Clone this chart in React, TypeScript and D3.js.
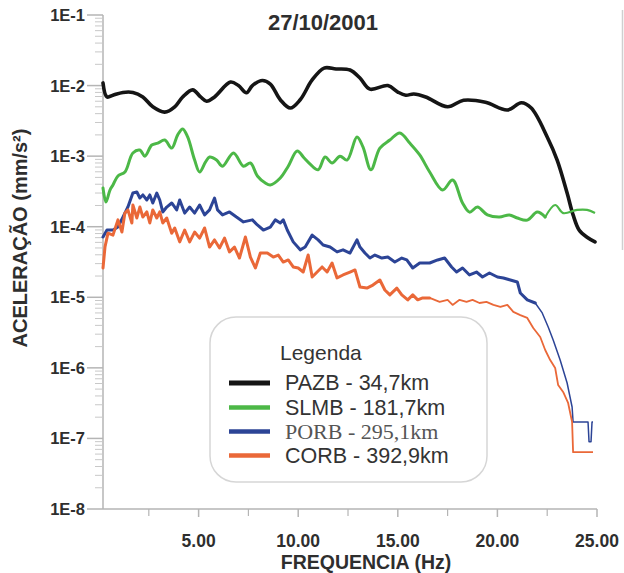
import React from 'react';
import * as d3 from 'd3';

// ---------- data (frequency in Hz, acceleration in mm/s²) ----------
const pazbFreq = [0.2, 0.4, 0.7, 1.2, 1.7, 2.2, 2.7, 3.3, 3.8, 4.2, 4.7, 5.1, 5.4, 5.8, 6.6, 7.0, 7.4, 7.7, 8.2, 8.6, 9.1, 9.6, 10.1, 10.7, 11.3, 11.9, 12.6, 13.1, 13.6, 14.5, 15.0, 15.4, 15.8, 16.4, 17.5, 18.3, 19.4, 20.5, 21.2, 21.7, 22.5, 23.0, 23.5, 23.8, 24.1, 24.5, 24.9];
const pazbAmp = [1.09e-2, 6.9e-3, 7.3e-3, 8.0e-3, 8.0e-3, 6.9e-3, 5.0e-3, 4.2e-3, 5.0e-3, 6.9e-3, 8.7e-3, 6.9e-3, 6.0e-3, 6.9e-3, 1.12e-2, 1.0e-2, 7.9e-3, 1.0e-2, 1.18e-2, 1.05e-2, 6.3e-3, 4.8e-3, 6.3e-3, 1.2e-2, 1.77e-2, 1.72e-2, 1.66e-2, 1.28e-2, 8.9e-3, 1.0e-2, 8.1e-3, 7.3e-3, 7.6e-3, 6.9e-3, 5.0e-3, 6.2e-3, 5.8e-3, 4.5e-3, 5.7e-3, 4.8e-3, 1.87e-3, 8.8e-4, 3.0e-4, 1.47e-4, 9.0e-5, 7.1e-5, 6.1e-5];

const slmbFreq = [0.2, 0.35, 0.55, 0.7, 0.95, 1.3, 1.7, 2.05, 2.3, 2.65, 2.95, 3.3, 3.65, 3.95, 4.2, 4.45, 4.8, 5.05, 5.35, 5.55, 5.9, 6.2, 6.75, 7.25, 7.6, 7.95, 8.35, 8.6, 9.1, 9.5, 9.95, 10.3, 10.6, 11.0, 11.35, 11.7, 12.1, 12.45, 12.95, 13.25, 13.65, 14.1, 14.6, 15.1, 15.6, 16.1, 16.6, 17.25, 17.75, 18.25, 18.6, 19.0, 19.5, 20.1, 20.6, 21.0, 21.5, 22.0, 22.4, 22.9, 23.3, 24.0, 24.5, 24.9];
const slmbAmp = [3.54e-4, 2.24e-4, 3.31e-4, 3.9e-4, 5.24e-4, 5.96e-4, 1.11e-3, 1.22e-3, 1.0e-3, 1.44e-3, 1.53e-3, 1.69e-3, 1.3e-3, 2.0e-3, 2.43e-3, 1.87e-3, 8.8e-4, 5.96e-4, 8.3e-4, 9.7e-4, 8.8e-4, 7.2e-4, 1.11e-3, 7.2e-4, 8.0e-4, 5.24e-4, 4.16e-4, 3.9e-4, 4.9e-4, 7.2e-4, 1.18e-3, 9.4e-4, 7.7e-4, 6.4e-4, 9.7e-4, 8.0e-4, 1.0e-3, 8.8e-4, 1.87e-3, 1.35e-3, 6.4e-4, 1.3e-3, 1.69e-3, 2.13e-3, 1.53e-3, 1.04e-3, 5.96e-4, 3.31e-4, 4.59e-4, 2.17e-4, 1.61e-4, 1.9e-4, 1.47e-4, 1.37e-4, 1.47e-4, 1.33e-4, 1.24e-4, 1.61e-4, 1.37e-4, 2.03e-4, 1.56e-4, 1.73e-4, 1.73e-4, 1.56e-4];

const porbFreq = [0.2, 0.4, 0.7, 0.95, 1.2, 1.45, 1.7, 1.9, 2.05, 2.2, 2.4, 2.55, 2.7, 2.9, 3.05, 3.2, 3.4, 3.65, 3.9, 4.05, 4.3, 4.55, 4.8, 5.05, 5.3, 5.55, 5.8, 5.95, 6.2, 6.55, 6.9, 7.25, 7.7, 7.95, 8.25, 8.6, 8.85, 9.1, 9.25, 9.45, 9.75, 10.1, 10.35, 10.7, 11.0, 11.25, 11.6, 11.95, 12.25, 12.6, 12.95, 13.1, 13.35, 13.6, 13.85, 14.2, 14.5, 14.85, 15.2, 15.45, 15.75, 16.1, 16.6, 17.0, 17.35, 17.7, 17.95, 18.25, 18.6, 18.95, 19.25, 19.6, 20.0, 20.3, 20.65, 21.0, 21.15, 21.5, 21.9, 22.25, 22.55, 22.8, 23.15, 23.5, 23.75, 23.8, 24.55, 24.6, 24.7, 24.75, 24.8];
const porbAmp = [7.15e-5, 8.98e-5, 8.98e-5, 9.9e-5, 1.37e-4, 1.9e-4, 3.0e-4, 3.1e-4, 2.55e-4, 2.82e-4, 2.39e-4, 2.82e-4, 2.17e-4, 3.0e-4, 2.39e-4, 1.62e-4, 1.9e-4, 2.17e-4, 1.73e-4, 2.39e-4, 1.56e-4, 1.9e-4, 1.56e-4, 2.03e-4, 1.47e-4, 1.73e-4, 2.55e-4, 1.73e-4, 1.47e-4, 1.62e-4, 1.37e-4, 1.17e-4, 1.25e-4, 1.06e-4, 8.98e-5, 9.9e-5, 1.25e-4, 1.13e-4, 1.25e-4, 8.98e-5, 6.1e-5, 4.7e-5, 5.15e-5, 7.6e-5, 6.5e-5, 5.5e-5, 5.15e-5, 4.4e-5, 4.7e-5, 4.24e-5, 6.5e-5, 5.15e-5, 4.24e-5, 3.6e-5, 3.97e-5, 3.6e-5, 3.72e-5, 3.16e-5, 3.6e-5, 3.38e-5, 2.6e-5, 3.06e-5, 3.06e-5, 3.38e-5, 3.6e-5, 2.69e-5, 2.28e-5, 2.6e-5, 2.07e-5, 2.28e-5, 1.94e-5, 2.21e-5, 1.94e-5, 1.88e-5, 1.76e-5, 1.65e-5, 1.15e-5, 9.2e-6, 8.3e-6, 6.0e-6, 3.8e-6, 2.48e-6, 1.29e-6, 6.1e-7, 2.79e-7, 1.71e-7, 1.71e-7, 9.0e-8, 9.0e-8, 1.71e-7, 1.71e-7];

const corbFreq = [0.2, 0.3, 0.45, 0.7, 0.95, 1.15, 1.3, 1.45, 1.65, 1.7, 1.9, 2.05, 2.2, 2.4, 2.55, 2.7, 2.9, 3.05, 3.2, 3.4, 3.65, 3.8, 4.05, 4.3, 4.55, 4.8, 5.05, 5.3, 5.55, 5.8, 6.05, 6.3, 6.55, 6.8, 7.05, 7.35, 7.6, 7.85, 8.1, 8.45, 8.75, 9.0, 9.25, 9.5, 9.75, 10.0, 10.25, 10.5, 10.7, 10.95, 11.2, 11.45, 11.7, 11.95, 12.25, 12.6, 12.85, 13.1, 13.45, 13.75, 14.1, 14.35, 14.6, 14.95, 15.2, 15.5, 15.75, 16.0, 16.25, 16.6, 17.1, 17.5, 17.75, 18.1, 18.45, 18.75, 19.1, 19.45, 19.8, 20.15, 20.5, 20.8, 21.15, 21.5, 21.8, 22.15, 22.4, 22.65, 22.9, 23.05, 23.3, 23.55, 23.75, 23.8, 24.8];
const corbAmp = [2.6e-5, 5.15e-5, 8.1e-5, 7.6e-5, 1.25e-4, 8.4e-5, 1.56e-4, 1.73e-4, 1.13e-4, 2.03e-4, 1.33e-4, 1.9e-4, 1.37e-4, 1.62e-4, 1.13e-4, 1.73e-4, 1.33e-4, 1.62e-4, 1.13e-4, 1.33e-4, 8.1e-5, 9.6e-5, 6.1e-5, 8.98e-5, 6.1e-5, 8.4e-5, 6.9e-5, 9.6e-5, 5.15e-5, 6.5e-5, 5.0e-5, 6.9e-5, 4.4e-5, 5.15e-5, 3.6e-5, 7.15e-5, 3.72e-5, 2.6e-5, 4.24e-5, 4.24e-5, 3.72e-5, 3.97e-5, 3.16e-5, 3.38e-5, 2.69e-5, 2.6e-5, 2.28e-5, 3.97e-5, 1.94e-5, 2.28e-5, 2.69e-5, 2.28e-5, 3.06e-5, 1.88e-5, 2.07e-5, 2.28e-5, 2.44e-5, 1.4e-5, 1.35e-5, 1.49e-5, 1.76e-5, 1.27e-5, 1.08e-5, 1.35e-5, 1.08e-5, 9.2e-6, 1.08e-5, 9.2e-6, 9.8e-6, 9.8e-6, 8.6e-6, 9.2e-6, 7.8e-6, 9.2e-6, 8.6e-6, 9.2e-6, 8.3e-6, 8.6e-6, 7.8e-6, 7.3e-6, 7.8e-6, 6.2e-6, 5.6e-6, 5.1e-6, 3.67e-6, 2.74e-6, 1.79e-6, 1.29e-6, 9.95e-7, 5.7e-7, 4.55e-7, 3.18e-7, 1.71e-7, 6.4e-8, 6.4e-8];

const seriesNames = ['PAZB - 34,7km', 'SLMB - 181,7km', 'PORB - 295,1km', 'CORB - 392,9km'];
const yTickLabels = ['1E-1', '1E-2', '1E-3', '1E-4', '1E-5', '1E-6', '1E-7', '1E-8'];
const yTickValues = [1e-1, 1e-2, 1e-3, 1e-4, 1e-5, 1e-6, 1e-7, 1e-8];
const xTickValues = [5, 10, 15, 20, 25];
const xTickLabels = ['5.00', '10.00', '15.00', '20.00', '25.00'];
const xMinorValues = [2.5, 7.5, 12.5, 17.5, 22.5];
const title = '27/10/2001';
const xTitle = 'FREQUENCIA (Hz)';
const yTitle = 'ACELERAÇÃO (mm/s²)';
const legendTitle = 'Legenda';

// ---------- styles ----------
const colors = ['#151515', '#4cb847', '#2c4496', '#ea6838'];
const widths = [3.6, 3, 3, 3];
const thinFrom = [99, 22.6, 22.2, 16.6];
const thinWidth = [3.6, 2.2, 1.5, 1.8];
const smooth = [true, true, false, false];
const SANS = 'Arial, "Liberation Sans", Helvetica, sans-serif';
const SERIF = '"Times New Roman", "Liberation Serif", serif';

export default function App() {
  const W = 624, H = 573;
  const x = d3.scaleLinear().domain([0.2, 25]).range([103, 597]);
  const y = d3.scaleLog().domain([1e-1, 1e-8]).range([15, 509]);

  const allSeries = [
    { f: pazbFreq, a: pazbAmp },
    { f: slmbFreq, a: slmbAmp },
    { f: porbFreq, a: porbAmp },
    { f: corbFreq, a: corbAmp },
  ];

  const minorY: number[] = [];
  for (let e = -8; e < -1; e++) {
    for (let m = 2; m <= 9; m++) minorY.push(m * Math.pow(10, e));
  }

  const paths = allSeries.map((s, i) => {
    const pts = s.f.map((f, j) => [f, s.a[j]] as [number, number]);
    const gen = d3.line<[number, number]>()
      .x(d => x(d[0]))
      .y(d => y(d[1]))
      .curve(smooth[i] ? d3.curveCatmullRom.alpha(0.5) : d3.curveLinear);
    const thick = pts.filter(p => p[0] <= thinFrom[i]);
    const thin = pts.filter(p => p[0] >= thinFrom[i]);
    const lastThick = thick[thick.length - 1];
    const thinPts = thin.length && lastThick && thin[0][0] !== lastThick[0] ? [lastThick, ...thin] : thin;
    return { thick: gen(thick) || '', thin: thinPts.length > 1 ? gen(thinPts) || '' : '' };
  });

  const axisColor = '#b5b5b5';
  const textColor = '#2e2e2e';

  const legX = 210, legY = 317, legW = 277, legH = 165;
  const rowY = [383, 407.5, 431.5, 455.5];

  return (
    <svg width={W} height={H} style={{ position: 'absolute', left: 0, top: 0, background: '#fff' }}>
      <rect x={0} y={0} width={W} height={H} fill="#fff" />
      {/* page edge line */}
      <line x1={622.5} y1={10} x2={622.5} y2={250} stroke="#cfcfcf" strokeWidth={1.5} />

      {/* title */}
      <text x={323} y={30} textAnchor="middle" fontFamily={SANS} fontWeight="bold" fontSize={22} fill={textColor}>{title}</text>

      {/* y axis */}
      <line x1={x(0.2)} y1={y(1e-1)} x2={x(0.2)} y2={y(1e-8)} stroke={axisColor} strokeWidth={1.5} />
      {minorY.map((v, i) => (
        <line key={'my' + i} x1={95} x2={x(0.2)} y1={y(v)} y2={y(v)} stroke="#c8c8c8" strokeWidth={1} />
      ))}
      {yTickValues.map((v, i) => (
        <g key={'yt' + i}>
          <line x1={87} x2={x(0.2)} y1={y(v)} y2={y(v)} stroke={axisColor} strokeWidth={1.5} />
          <text x={85} y={y(v) + 6} textAnchor="end" fontFamily={SANS} fontWeight="bold" fontSize={16.5} fill={textColor}>{yTickLabels[i]}</text>
        </g>
      ))}

      {/* x axis */}
      <line x1={x(0.2)} y1={y(1e-8)} x2={x(25)} y2={y(1e-8)} stroke={axisColor} strokeWidth={1.5} />
      {xTickValues.map((v, i) => (
        <g key={'xt' + i}>
          <line x1={x(v)} x2={x(v)} y1={y(1e-8)} y2={y(1e-8) + 8} stroke={axisColor} strokeWidth={1.5} />
          <text x={x(v)} y={546.5} textAnchor="middle" fontFamily={SANS} fontWeight="bold" fontSize={17.5} fill={textColor}>{xTickLabels[i]}</text>
        </g>
      ))}
      {xMinorValues.map((v, i) => (
        <line key={'xm' + i} x1={x(v)} x2={x(v)} y1={y(1e-8)} y2={y(1e-8) + 7} stroke={axisColor} strokeWidth={1.2} />
      ))}

      {/* axis titles */}
      <text x={366} y={569} textAnchor="middle" fontFamily={SANS} fontWeight="bold" fontSize={19.5} fill={textColor}>{xTitle}</text>
      <text transform={`translate(27,238) rotate(-90)`} textAnchor="middle" fontFamily={SANS} fontWeight="bold" fontSize={20} fill={textColor}>{yTitle}</text>

      {/* series */}
      {paths.map((p, i) => (
        <g key={'s' + i}>
          <path d={p.thick} fill="none" stroke={colors[i]} strokeWidth={widths[i]} strokeLinejoin="round" strokeLinecap="round" />
          {p.thin && <path d={p.thin} fill="none" stroke={colors[i]} strokeWidth={thinWidth[i]} strokeLinejoin="round" />}
        </g>
      ))}

      {/* legend */}
      <rect x={legX} y={legY} width={legW} height={legH} rx={26} ry={26} fill="#fff" stroke="#d6d6d6" strokeWidth={1.5} />
      <text x={280} y={360} fontFamily={SANS} fontSize={21} fill="#333">{legendTitle}</text>
      {seriesNames.map((name, i) => (
        <g key={'lg' + i}>
          <line x1={229} x2={270} y1={rowY[i]} y2={rowY[i]} stroke={colors[i]} strokeWidth={i === 0 ? 5 : 4.5} />
          <text x={285} y={rowY[i] + 7} fontFamily={i === 2 ? SERIF : SANS} fontSize={i === 2 ? 22 : 21.5} fill={i === 2 ? '#555' : '#333'}>{name}</text>
        </g>
      ))}
    </svg>
  );
}
